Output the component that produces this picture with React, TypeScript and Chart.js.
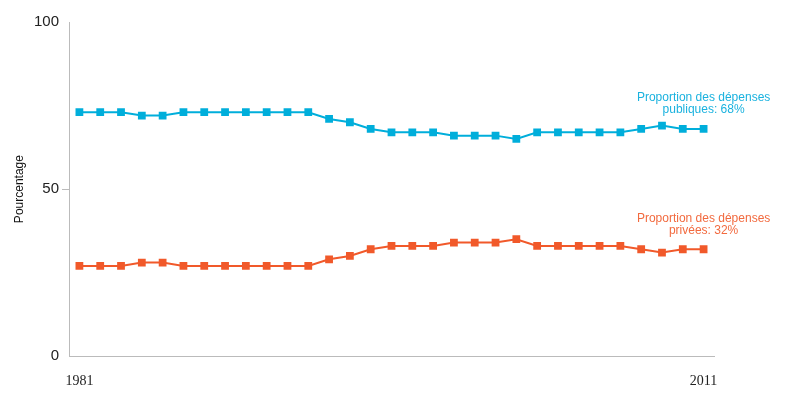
import React, { useEffect, useRef } from "react";
import { Chart, registerables } from "chart.js";

Chart.register(...registerables);

const years = [
  "1981", "1982", "1983", "1984", "1985", "1986", "1987", "1988", "1989", "1990",
  "1991", "1992", "1993", "1994", "1995", "1996", "1997", "1998", "1999", "2000",
  "2001", "2002", "2003", "2004", "2005", "2006", "2007", "2008", "2009", "2010", "2011",
];
const publicShare = [73, 73, 73, 72, 72, 73, 73, 73, 73, 73, 73, 73, 71, 70, 68, 67, 67, 67, 66, 66, 66, 65, 67, 67, 67, 67, 67, 68, 69, 68, 68];
const privateShare = [27, 27, 27, 28, 28, 27, 27, 27, 27, 27, 27, 27, 29, 30, 32, 33, 33, 33, 34, 34, 34, 35, 33, 33, 33, 33, 33, 32, 31, 32, 32];
const yTicks = [0, 50, 100];
const shownYears = ["1981", "2011"];
const publicLabel = ["Proportion des dépenses", "publiques: 68%"];
const privateLabel = ["Proportion des dépenses", "privées: 32%"];

const BLUE = "#00AEDB";
const ORANGE = "#F1592A";

const labelPlugin = {
  id: "endLabels",
  afterDatasetsDraw(chart: any) {
    const ctx = chart.ctx;
    const x = chart.scales.x;
    const y = chart.scales.y;
    const last = years.length - 1;
    const px = x.getPixelForValue(last);
    ctx.save();
    ctx.font = "12px 'Liberation Sans', Arial, sans-serif";
    ctx.textAlign = "center";
    ctx.textBaseline = "middle";
    const draw = (lines: string[], val: number, color: string) => {
      const py = y.getPixelForValue(val);
      ctx.fillStyle = color;
      ctx.fillText(lines[0], px, py - 31);
      ctx.fillText(lines[1], px, py - 19);
    };
    draw(publicLabel, publicShare[last], "#1AB2DF");
    draw(privateLabel, privateShare[last], "#F26A3F");
    ctx.restore();
  },
};

export default function App() {
  const ref = useRef<HTMLCanvasElement | null>(null);
  useEffect(() => {
    if (!ref.current) return;
    const chart = new Chart(ref.current, {
      type: "line",
      data: {
        labels: years,
        datasets: [
          {
            data: publicShare,
            borderColor: BLUE,
            backgroundColor: BLUE,
            borderWidth: 2,
            pointStyle: "rect",
            pointRadius: 5.5,
            pointBorderWidth: 0,
            tension: 0,
          },
          {
            data: privateShare,
            borderColor: ORANGE,
            backgroundColor: ORANGE,
            borderWidth: 2,
            pointStyle: "rect",
            pointRadius: 5.5,
            pointBorderWidth: 0,
            tension: 0,
          },
        ],
      },
      options: {
        animation: false,
        responsive: false,
        maintainAspectRatio: false,
        layout: { padding: { top: 22, right: 86, bottom: 7, left: 12 } },
        plugins: {
          legend: { display: false },
          tooltip: { enabled: false },
        },
        scales: {
          x: {
            type: "category",
            offset: true,
            grid: { display: false, drawTicks: false },
            border: { display: true, color: "#BBBBBB", width: 1 },
            ticks: {
              autoSkip: false,
              maxRotation: 0,
              padding: 17,
              color: "#222",
              font: { family: "'Liberation Serif', 'Times New Roman', serif", size: 14 },
              callback: (_v: any, i: number) => (shownYears.includes(years[i]) ? years[i] : ""),
            },
          },
          y: {
            min: 0,
            max: 100,
            afterFit: (s: any) => {
              s.width = 57;
            },
            afterBuildTicks: (s: any) => {
              s.ticks = yTicks.map((v) => ({ value: v }));
            },
            grid: {
              drawOnChartArea: false,
              drawTicks: true,
              tickLength: 7,
              color: (c: any) => (c.tick && c.tick.value === 50 ? "#BBBBBB" : "rgba(0,0,0,0)"),
            },
            border: { display: true, color: "#BBBBBB", width: 1 },
            ticks: {
              padding: 3,
              color: "#222",
              font: { family: "'Liberation Sans', Arial, sans-serif", size: 15 },
            },
            title: {
              display: true,
              text: "Pourcentage",
              color: "#111",
              padding: 0,
              font: { family: "'Liberation Sans', Arial, sans-serif", size: 12 },
            },
          },
        },
      },
      plugins: [labelPlugin],
    });
    return () => chart.destroy();
  }, []);
  return (
    <div style={{ position: "fixed", left: 0, top: 0, width: 800, height: 414, background: "#fff" }}>
      <canvas ref={ref} width={800} height={414} style={{ width: 800, height: 414 }} />
    </div>
  );
}
